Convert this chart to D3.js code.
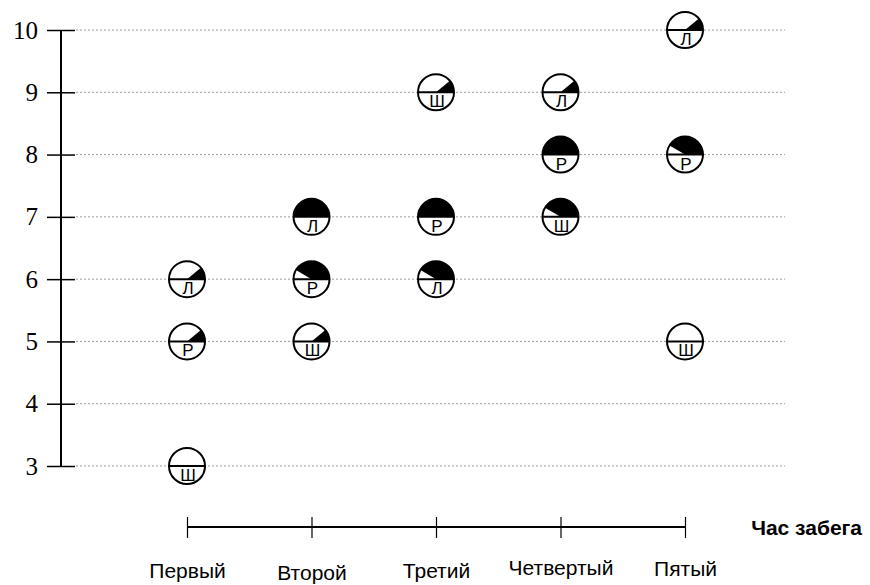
<!DOCTYPE html>
<html>
<head>
<meta charset="utf-8">
<script src="https://cdn.jsdelivr.net/npm/d3@7"></script>
<style>
  body { margin: 0; background: #fff; }
  svg { display: block; }
  .ylab { font-family: "Liberation Serif", "Times New Roman", "DejaVu Serif", serif; }
</style>
</head>
<body>
<svg id="chart" width="870" height="585"></svg>
<script>
// data
const hours = ["Первый", "Второй", "Третий", "Четвертый", "Пятый"];
const yTicks = [3, 4, 5, 6, 7, 8, 9, 10];

const lValues = [6, 7, 6, 9, 10];
const lFill = [0.22, 1, 0.83, 0.22, 0.22];
const rValues = [5, 6, 7, 8, 8];
const rFill = [0.22, 0.83, 1, 1, 0.83];
const shValues = [3, 5, 9, 7, 5];
const shFill = [0, 0.22, 0.22, 0.83, 0];

const series = [
  {letter: "Л", values: lValues, fill: lFill},
  {letter: "Р", values: rValues, fill: rFill},
  {letter: "Ш", values: shValues, fill: shFill}
];

const labelShift = [0, 2, 0, -3, -2];

const svg = d3.select("#chart");
const r = 18;
const sans = "'Liberation Sans', Arial, sans-serif";

const x = d3.scalePoint().domain(hours).range([187, 685]);
const y = d3.scaleLinear().domain([3, 10]).range([466, 30]);

// gridlines
svg.append("g")
  .selectAll("line")
  .data(yTicks)
  .join("line")
  .attr("x1", 76).attr("x2", 785)
  .attr("y1", d => y(d)).attr("y2", d => y(d))
  .attr("stroke", "#999")
  .attr("stroke-width", 1)
  .attr("stroke-dasharray", "2,2");

// y axis
const yAxis = svg.append("g")
  .attr("transform", "translate(61,0)")
  .attr("font-family", null)
  .attr("font-size", null)
  .call(d3.axisLeft(y).tickValues(yTicks).tickSize(14).tickPadding(9).tickFormat(d3.format("d")));
yAxis.attr("font-family", null).attr("font-size", null);
yAxis.select(".domain").attr("d", `M0,${y(10)}V${y(3)}`).attr("stroke", "#000").attr("stroke-width", 2);
yAxis.selectAll(".tick line").attr("x2", 14).attr("x1", -14).attr("stroke-width", 1.5);
yAxis.selectAll(".tick text")
  .attr("class", "ylab")
  .attr("x", -23)
  .attr("dy", "0.32em")
  .style("font-size", "25px")
  .attr("fill", "#000");

// x axis
const xAxis = svg.append("g")
  .attr("transform", "translate(0,527)")
  .call(d3.axisBottom(x).tickSize(0));
xAxis.select(".domain").attr("d", `M${x(hours[0])},0H${x(hours[4])}`).attr("stroke", "#000").attr("stroke-width", 2);
xAxis.selectAll(".tick line").attr("y1", -10).attr("y2", 11).attr("stroke-width", 1.2);
xAxis.selectAll(".tick text")
  .attr("y", (d, i) => 51 + labelShift[i])
  .attr("dy", null)
  .style("font-family", sans)
  .style("font-size", "21px")
  .attr("fill", "#000");

svg.append("text")
  .attr("x", 862).attr("y", 535)
  .attr("text-anchor", "end")
  .style("font-family", sans)
  .style("font-weight", "bold")
  .style("font-size", "21px")
  .text("Час забега");

// markers
const arc = d3.arc().innerRadius(0).outerRadius(r);
const points = series.flatMap(s => s.values.map((v, i) => ({letter: s.letter, hour: hours[i], value: v, f: s.fill[i]})));

const g = svg.append("g")
  .selectAll("g")
  .data(points)
  .join("g")
  .attr("transform", d => `translate(${x(d.hour)},${y(d.value)})`);

g.append("circle")
  .attr("r", r)
  .attr("fill", "#fff");

g.filter(d => d.f > 0)
  .append("path")
  .attr("d", d => arc({startAngle: Math.PI / 2 - d.f * Math.PI, endAngle: Math.PI / 2}))
  .attr("fill", "#000");

g.append("circle")
  .attr("r", r)
  .attr("fill", "none")
  .attr("stroke", "#000")
  .attr("stroke-width", 2);

g.append("line")
  .attr("x1", -r).attr("x2", r)
  .attr("stroke", "#000")
  .attr("stroke-width", 2);

g.append("text")
  .attr("x", 1)
  .attr("y", 15)
  .attr("text-anchor", "middle")
  .style("font-family", sans)
  .style("font-size", "17px")
  .text(d => d.letter);
</script>
</body>
</html>
